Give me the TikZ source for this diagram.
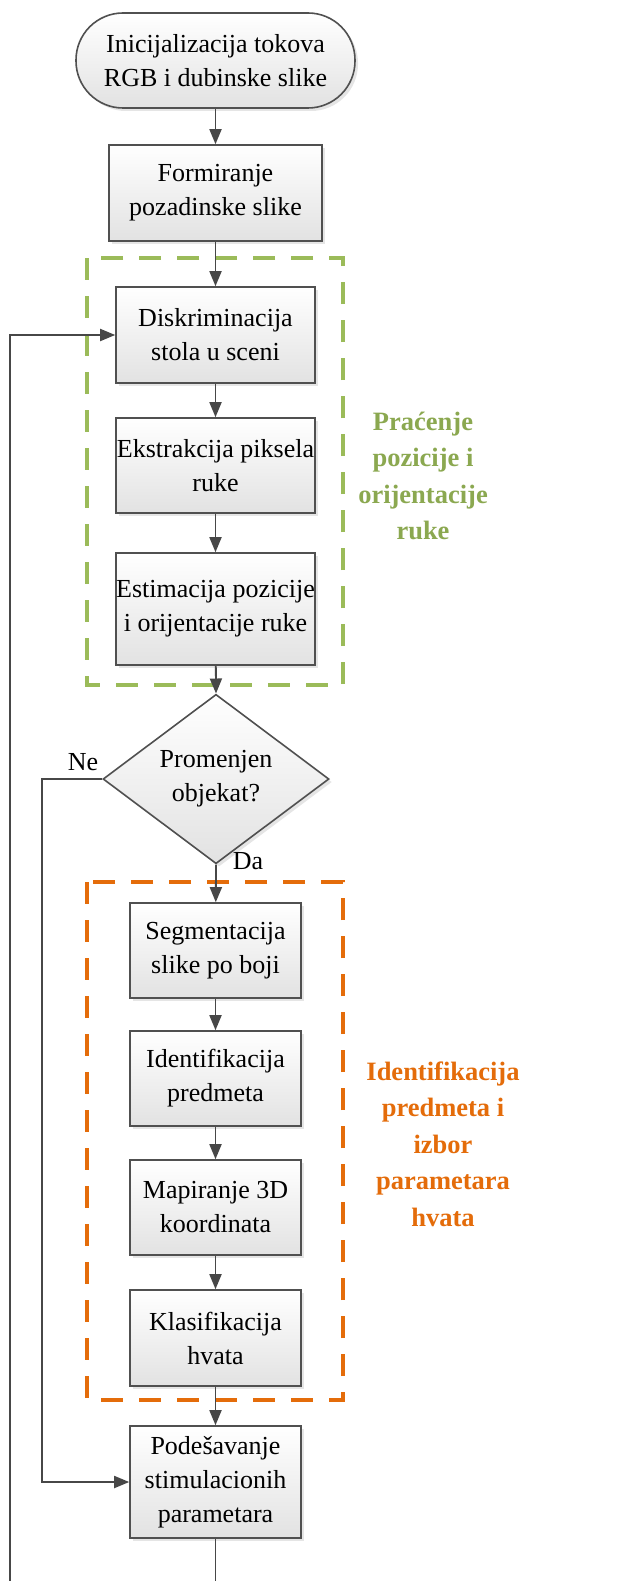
\documentclass[tikz,border=0pt]{standalone}
\usepackage{fontspec}
\setmainfont{Liberation Serif}
\usetikzlibrary{arrows.meta,shapes.geometric,shadows}
\definecolor{linegray}{HTML}{474747}
\definecolor{boxborder}{HTML}{505050}
\definecolor{boxfill}{HTML}{E2E2E2}
\definecolor{grpgreen}{HTML}{9BBB59}
\definecolor{grporange}{HTML}{E46C0A}
\begin{document}
\begin{tikzpicture}[x=1pt,y=-1pt,
  every node/.style={font=\fontsize{26}{34}\selectfont},
  boxbase/.style={draw=boxborder, line width=1.6pt, top color=white, bottom color=boxfill,
    align=center, inner sep=0pt,
    drop shadow={shadow xshift=3pt, shadow yshift=-3pt, opacity=0.2}},
  widebox/.style={boxbase, minimum width=199pt, minimum height=96pt},
  narrowbox/.style={boxbase, minimum width=171pt, minimum height=95pt},
  terminal/.style={boxbase, rounded corners=47pt, minimum width=279pt, minimum height=95pt},
  decision/.style={boxbase, diamond, minimum width=226pt, minimum height=134pt},
  arr/.style={draw=linegray, line width=1.8pt, -{Triangle[length=15pt,width=12pt]}},
  grouplabel/.style={align=center, font=\bfseries\fontsize{26.5}{36.5}\selectfont},
  groupbox/.style={line width=3.4pt, dash pattern=on 22pt off 16pt}
]
\clip (0,0) rectangle (627,1581);
\fill[white] (0,0) rectangle (627,1581);

% main column of process steps
\node[terminal] (term) at (215.5,60.5) {Inicijalizacija tokova\\RGB i dubinske slike};
\node[boxbase, minimum width=213pt, minimum height=96pt] (form) at (215.5,193) {Formiranje\\pozadinske slike};
\node[widebox] (disk) at (215.5,335) {Diskriminacija\\stola u sceni};
\node[widebox, minimum height=95pt] (ekst) at (215.5,465.5) {Ekstrakcija piksela\\ruke};
\node[widebox, minimum height=112pt] (esti) at (215.5,609) {Estimacija pozicije\\i orijentacije ruke};
\node[decision] (dec) at (216,779) {Promenjen\\objekat?};
\node[narrowbox] (segm) at (215.5,950.5) {Segmentacija\\slike po boji};
\node[narrowbox] (iden) at (215.5,1078.5) {Identifikacija\\predmeta};
\node[narrowbox] (mapi) at (215.5,1207.5) {Mapiranje 3D\\koordinata};
\node[narrowbox, minimum height=96pt] (klas) at (215.5,1338) {Klasifikacija\\hvata};
\node[narrowbox, minimum height=112pt] (pode) at (215.5,1482) {Podešavanje\\stimulacionih\\parametara};

% dashed group frames
\draw[groupbox, draw=grpgreen] (87,258) rectangle (343,685);
\draw[groupbox, draw=grporange] (87,882) rectangle (343,1400);

\node[grouplabel, text=grpgreen!90!black] (lblA) at (423,476) {Praćenje\\pozicije i\\orijentacije\\ruke};
\node[grouplabel, text=grporange] (lblB) at (443,1144) {Identifikacija\\predmeta i\\izbor\\parametara\\hvata};

% connectors
\draw[arr] (term) -- (form);
\draw[arr] (form) -- (disk);
\draw[arr] (disk) -- (ekst);
\draw[arr] (ekst) -- (esti);
\draw[arr] (esti) -- (dec.north);
\draw[arr] (dec.south) -- (segm);
\draw[arr] (segm) -- (iden);
\draw[arr] (iden) -- (mapi);
\draw[arr] (mapi) -- (klas);
\draw[arr] (klas) -- (pode);

\coordinate (neTurn) at (42,779);
\draw[arr] (dec.west) -- (neTurn) |- (pode.west);

\coordinate (loopR) at (215.5,1620);
\coordinate (loopL) at (10,1620);
\draw[arr] (pode.south) -- (loopR) -- (loopL) |- (disk.west);

\node[anchor=base] (ne) at (83,770) {Ne};
\node[anchor=base] (da) at (248,869) {Da};
\end{tikzpicture}
\end{document}
